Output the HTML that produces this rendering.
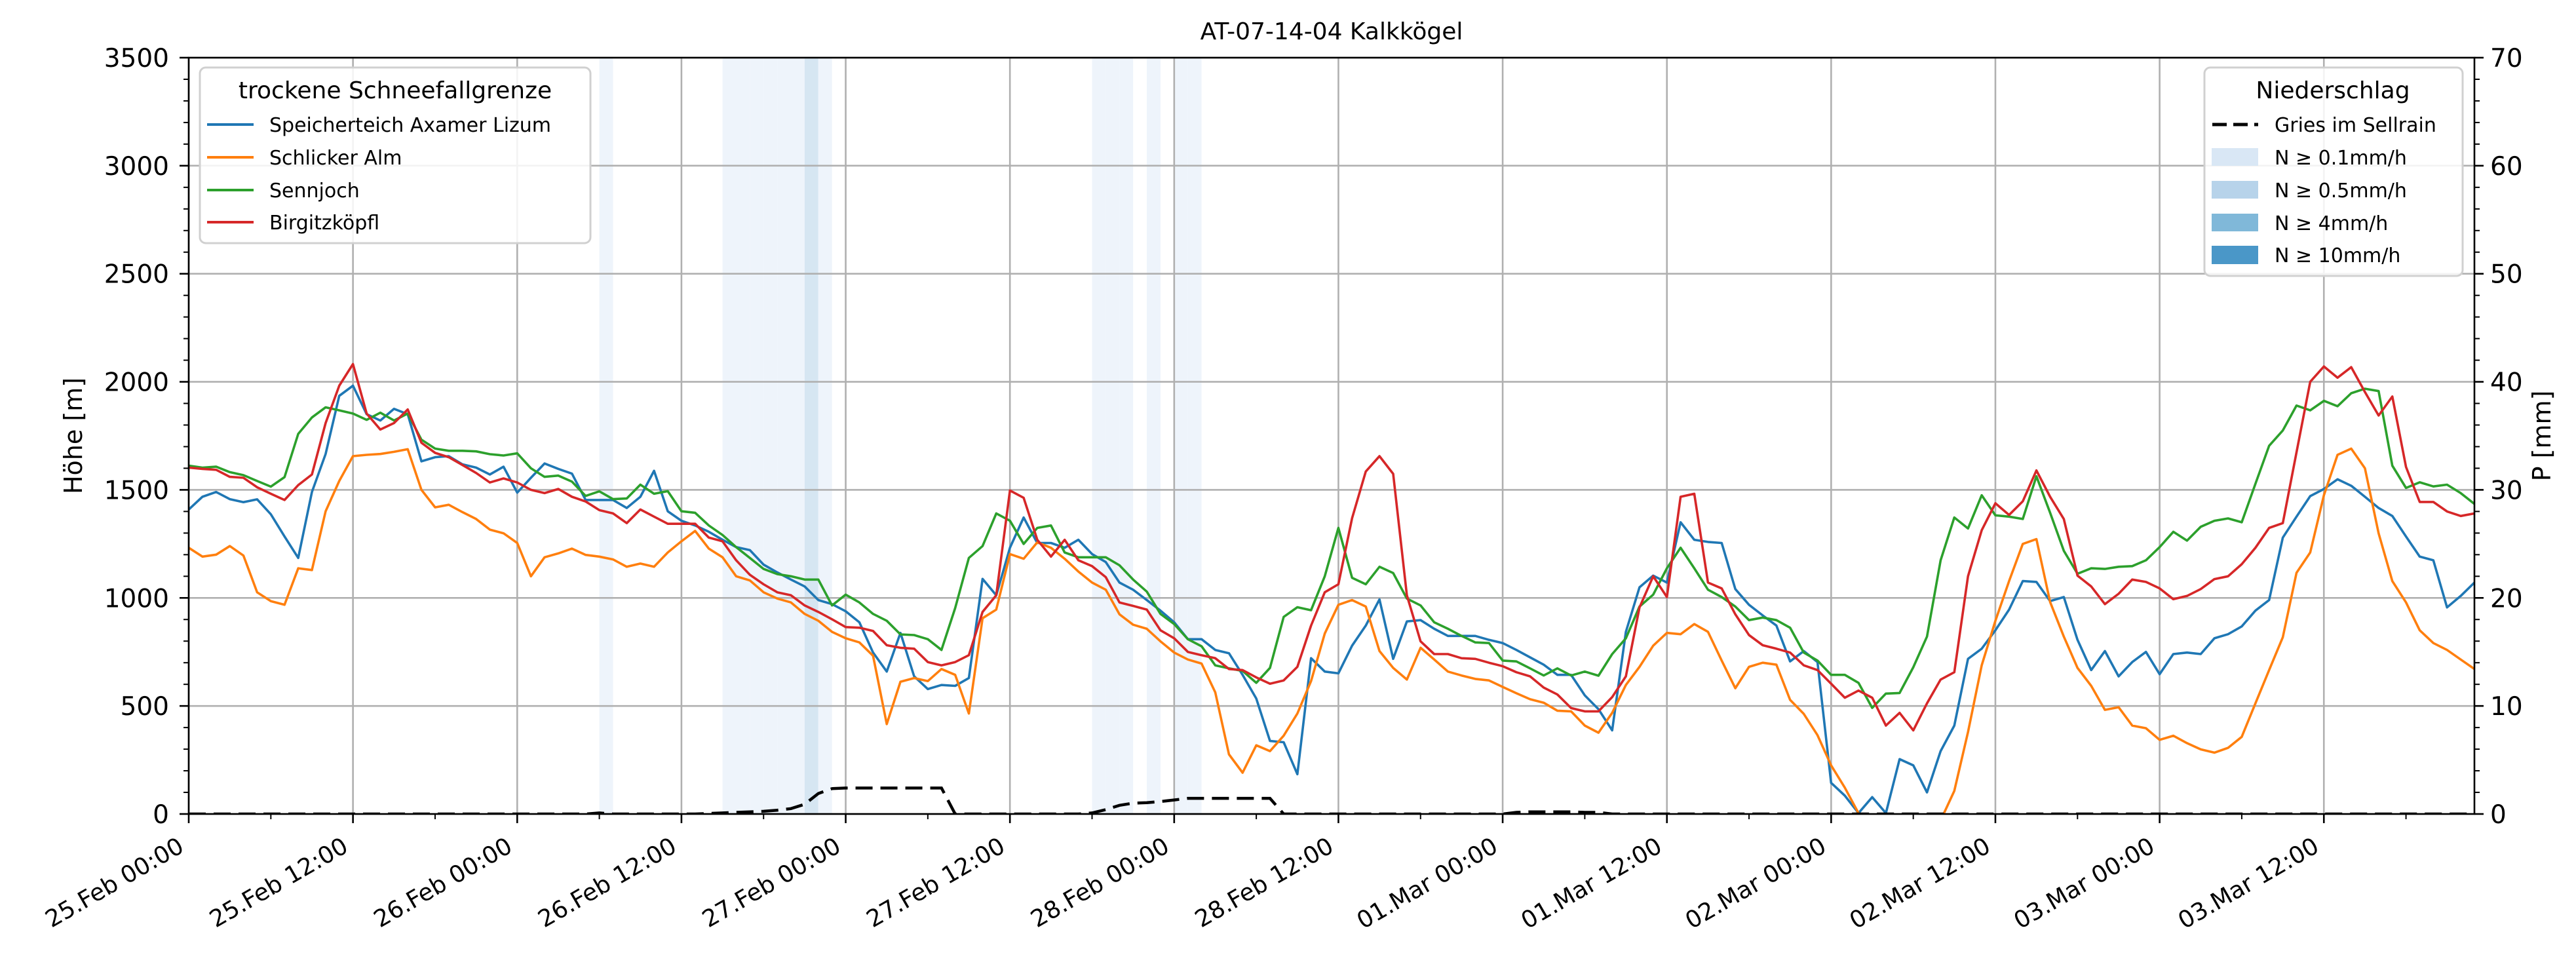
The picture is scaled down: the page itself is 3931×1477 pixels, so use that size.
<!DOCTYPE html>
<html><head><meta charset="utf-8"><style>
html,body{margin:0;padding:0;background:#fff}
svg{display:block;font-family:"DejaVu Sans","Liberation Sans",sans-serif}
</style></head><body>
<svg id="chart" width="3931" height="1477" viewBox="0 0 3931 1477" xmlns="http://www.w3.org/2000/svg">
<defs><clipPath id="plotclip"><rect x="288" y="88" width="3488" height="1154"/></clipPath></defs>
<text x="2032" y="60" font-size="36" text-anchor="middle">AT-07-14-04 Kalkkögel</text>
<g id="bands" clip-path="url(#plotclip)"></g>
<g id="grid"></g>
<g id="series" clip-path="url(#plotclip)"></g>
<g id="axes"></g>
<text transform="translate(125,665) rotate(-90)" font-size="38" text-anchor="middle">Höhe [m]</text>
<text transform="translate(3892,665) rotate(-90)" font-size="38" text-anchor="middle">P [mm]</text>
<g>
<rect x="305" y="103" width="596" height="268" rx="9" fill="#fff" fill-opacity="0.85" stroke="#d0d0d0" stroke-width="3"/>
<text x="603" y="150" font-size="36" text-anchor="middle">trockene Schneefallgrenze</text>
<g><line x1="316" y1="190" x2="387" y2="190" stroke="#1f77b4" stroke-width="4"/><text x="411" y="201" font-size="30">Speicherteich Axamer Lizum</text></g>
<g><line x1="316" y1="240" x2="387" y2="240" stroke="#ff7f0e" stroke-width="4"/><text x="411" y="251" font-size="30">Schlicker Alm</text></g>
<g><line x1="316" y1="290" x2="387" y2="290" stroke="#2ca02c" stroke-width="4"/><text x="411" y="301" font-size="30">Sennjoch</text></g>
<g><line x1="316" y1="339" x2="387" y2="339" stroke="#d62728" stroke-width="4"/><text x="411" y="350" font-size="30">Birgitzköpfl</text></g>
</g>
<g>
<rect x="3364" y="103" width="394" height="318" rx="9" fill="#fff" fill-opacity="0.85" stroke="#d0d0d0" stroke-width="3"/>
<text x="3560" y="150" font-size="36" text-anchor="middle">Niederschlag</text>
<g><line x1="3376" y1="190" x2="3446" y2="190" stroke="#000" stroke-width="5" stroke-dasharray="22,10"/><text x="3471" y="201" font-size="30">Gries im Sellrain</text></g>
<g><rect x="3375" y="226" width="71" height="27" fill="#d9e7f5"/><text x="3471" y="251" font-size="30">N ≥ 0.1mm/h</text></g>
<g><rect x="3375" y="276" width="71" height="27" fill="#b7d3ea"/><text x="3471" y="301" font-size="30">N ≥ 0.5mm/h</text></g>
<g><rect x="3375" y="326" width="71" height="27" fill="#80b8d9"/><text x="3471" y="351" font-size="30">N ≥ 4mm/h</text></g>
<g><rect x="3375" y="375" width="71" height="28" fill="#4a97c8"/><text x="3471" y="400" font-size="30">N ≥ 10mm/h</text></g>
</g>
</svg>
<script>
const xTickLabels = ["25.Feb 00:00","25.Feb 12:00","26.Feb 00:00","26.Feb 12:00","27.Feb 00:00","27.Feb 12:00","28.Feb 00:00","28.Feb 12:00","01.Mar 00:00","01.Mar 12:00","02.Mar 00:00","02.Mar 12:00","03.Mar 00:00","03.Mar 12:00"];
const yTicks = [0,500,1000,1500,2000,2500,3000,3500];
const y2Ticks = [0,10,20,30,40,50,60,70];
const speicherteich = [1409,1468,1490,1457,1443,1456,1387,1284,1185,1490,1666,1935,1982,1850,1821,1875,1850,1632,1651,1656,1618,1603,1571,1607,1487,1556,1622,1597,1575,1453,1453,1453,1416,1468,1588,1401,1357,1335,1306,1269,1235,1221,1154,1118,1085,1053,990,971,938,887,747,659,838,637,578,597,593,629,1088,1012,1232,1372,1254,1254,1232,1269,1203,1166,1071,1038,990,941,887,809,809,759,744,644,534,338,332,184,721,659,651,779,872,993,718,891,897,857,824,824,824,806,791,759,725,691,644,644,549,485,387,843,1049,1103,1071,1350,1269,1259,1254,1041,968,919,872,706,754,703,144,85,4,78,4,254,225,100,291,409,718,765,850,946,1078,1074,985,1004,806,666,754,637,703,750,647,740,747,740,813,832,868,941,990,1279,1376,1471,1504,1549,1519,1468,1416,1379,1284,1191,1174,956,1009,1071];
const schlickerAlm = [1232,1191,1200,1240,1196,1026,985,968,1137,1129,1401,1541,1656,1662,1666,1676,1688,1500,1419,1431,1397,1365,1316,1299,1254,1100,1188,1206,1228,1199,1191,1178,1144,1159,1144,1210,1262,1310,1228,1188,1100,1081,1026,997,979,926,894,843,813,794,732,416,612,629,615,671,644,465,906,946,1203,1181,1257,1232,1181,1122,1071,1038,924,876,857,799,747,715,696,563,276,191,318,291,362,465,615,835,968,990,960,754,676,622,769,715,659,641,625,618,588,559,531,515,478,475,409,376,468,597,681,779,838,832,879,843,710,582,681,700,691,528,463,365,225,122,4,-80,-150,-200,-200,-150,-30,107,379,688,894,1078,1250,1272,981,821,676,593,482,494,409,397,343,362,328,299,284,306,357,512,666,818,1116,1210,1475,1662,1691,1600,1299,1078,979,850,791,759,715,671];
const sennjoch = [1612,1603,1607,1582,1568,1541,1515,1559,1759,1835,1882,1868,1853,1824,1857,1821,1853,1732,1691,1681,1681,1678,1665,1659,1669,1600,1560,1566,1538,1472,1493,1457,1460,1524,1482,1494,1401,1394,1335,1291,1235,1185,1134,1110,1100,1085,1085,965,1015,979,926,894,831,828,809,759,953,1185,1240,1391,1357,1250,1324,1335,1210,1188,1188,1188,1151,1085,1029,926,879,809,776,688,674,662,607,676,912,957,943,1100,1324,1093,1063,1144,1115,997,965,887,857,824,794,791,710,706,674,641,674,641,659,640,740,813,960,1015,1137,1232,1137,1038,1004,960,897,909,897,862,747,710,644,644,607,491,557,560,679,821,1174,1372,1321,1475,1382,1376,1365,1563,1394,1218,1112,1137,1134,1144,1147,1174,1235,1306,1265,1329,1357,1368,1350,1528,1704,1775,1890,1868,1912,1887,1947,1968,1957,1612,1509,1535,1516,1524,1485,1435];
const birgitzkoepfl = [1603,1597,1593,1560,1556,1512,1482,1453,1522,1571,1809,1982,2082,1853,1779,1809,1872,1718,1671,1651,1615,1578,1534,1553,1534,1500,1485,1504,1468,1446,1406,1391,1346,1409,1376,1343,1343,1343,1279,1262,1174,1107,1063,1026,1012,965,935,901,865,862,847,781,769,765,703,688,703,735,935,1012,1497,1463,1269,1191,1269,1174,1147,1096,979,963,946,850,813,750,735,721,671,666,632,603,618,681,872,1026,1063,1369,1585,1656,1574,1012,799,740,740,721,718,700,684,656,637,585,553,490,475,475,541,637,956,1100,1004,1468,1482,1071,1044,924,828,781,765,747,688,666,603,538,571,538,409,468,387,512,622,656,1100,1313,1438,1384,1447,1590,1468,1365,1103,1053,971,1019,1085,1074,1044,994,1009,1041,1087,1100,1156,1232,1324,1346,1674,2000,2071,2019,2068,1953,1844,1932,1606,1444,1444,1400,1379,1391];
const griesPrecip = [0,0,0,0,0,0,0,0,0,0,0,0,0,0,0,0,0,0,0,0,0,0,0,0,0,0,0,0,0,0,0.1,0,0,0,0,0,0,0,0.05,0.1,0.15,0.2,0.25,0.35,0.5,0.9,1.9,2.35,2.4,2.4,2.4,2.4,2.4,2.4,2.4,2.4,0,0,0,0,0,0,0,0,0,0,0.1,0.4,0.8,1.0,1.05,1.15,1.3,1.45,1.45,1.45,1.45,1.45,1.45,1.45,0,0,0,0,0,0,0,0,0,0,0,0,0,0,0,0,0,0.15,0.2,0.2,0.2,0.2,0.15,0.15,0,0,0,0,0,0,0,0,0,0,0,0,0,0,0,0,0,0,0,0,0,0,0,0,0,0,0,0,0,0,0,0,0,0,0,0,0,0,0,0,0,0,0,0,0,0,0,0,0,0,0,0,0,0,0,0,0,0,0,0,0,0,0,0,0];
const rainHours = [30,39,40,41,42,43,44,45,46,66,67,68,70,72,73];
const rainRates = [0.2,0.2,0.2,0.2,0.2,0.2,0.2,0.8,0.2,0.2,0.2,0.2,0.2,0.2,0.2];

const NS='http://www.w3.org/2000/svg';
const L=288,R=3776,T=88,B=1242,HMAX=167;
function xs(h){return L+h*(R-L)/HMAX;}
function ys(v){return B-v*(B-T)/3500;}
function yp(p){return B-p*(B-T)/70;}
function mk(tag,attrs,parent){const e=document.createElementNS(NS,tag);for(const k in attrs)e.setAttribute(k,attrs[k]);parent.appendChild(e);return e;}

const bands=document.getElementById('bands');
rainHours.forEach((h,i)=>{
  const r=rainRates[i];
  const col=r>=10?'#4a97c8':r>=4?'#80b8d9':r>=0.5?'#d6e6f2':'#eef4fb';
  const el=mk('rect',{x:xs(h),y:T,width:xs(h+1)-xs(h),height:B-T,fill:col},bands);
  
  
});

const grid=document.getElementById('grid');
xTickLabels.forEach((lab,i)=>{
  const el=mk('line',{x1:xs(i*12),x2:xs(i*12),y1:T,y2:B,stroke:'#b0b0b0','stroke-width':2.6},grid);
  
  
});
yTicks.forEach(v=>{
  const el=mk('line',{x1:L,x2:R,y1:ys(v),y2:ys(v),stroke:'#b0b0b0','stroke-width':2.6},grid);
  
  
});

const series=document.getElementById('series');
const defs=[[speicherteich,'#1f77b4','line-speicherteich'],[schlickerAlm,'#ff7f0e','line-schlicker-alm'],[sennjoch,'#2ca02c','line-sennjoch'],[birgitzkoepfl,'#d62728','line-birgitzkoepfl']];
defs.forEach(([arr,col,name])=>{
  const d=arr.map((v,i)=>(i?'L':'M')+xs(i).toFixed(1)+','+ys(v).toFixed(1)).join('');
  const el=mk('path',{d:d,fill:'none',stroke:col,'stroke-width':3.6,'stroke-linejoin':'round'},series);
  
  
});
{
  const d=griesPrecip.map((v,i)=>(i?'L':'M')+xs(i).toFixed(1)+','+yp(v).toFixed(1)).join('');
  const el=mk('path',{d:d,fill:'none',stroke:'#000','stroke-width':4.5,'stroke-dasharray':'26,12'},series);
  
  
}

const axes=document.getElementById('axes');
const frame=mk('rect',{x:L,y:T,width:R-L,height:B-T,fill:'none',stroke:'#000','stroke-width':2.6},axes);


for(let h=0;h<=HMAX;h+=6){
  const major=h%12===0;
  const el=mk('line',{x1:xs(h),x2:xs(h),y1:B,y2:B+(major?14:8),stroke:'#000','stroke-width':major?2.6:2},axes);
  
  
}
xTickLabels.forEach((lab,i)=>{
  const t=mk('text',{transform:'translate('+(xs(i*12)-5)+',1298) rotate(-30)','font-size':36,'text-anchor':'end'},axes);
  t.textContent=lab;
  
  
});
for(let v=0;v<=3500;v+=100){
  const major=v%500===0;
  const el=mk('line',{x1:L,x2:L-(major?14:8),y1:ys(v),y2:ys(v),stroke:'#000','stroke-width':major?2.6:2},axes);
  
  
}
yTicks.forEach(v=>{
  const t=mk('text',{x:258,y:ys(v)+14,'font-size':39,'text-anchor':'end'},axes);
  t.textContent=v;
  
  
});
for(let p=0;p<=70;p+=2){
  const major=p%10===0;
  const el=mk('line',{x1:R,x2:R+(major?14:8),y1:yp(p),y2:yp(p),stroke:'#000','stroke-width':major?2.6:2},axes);
  
  
}
y2Ticks.forEach(p=>{
  const t=mk('text',{x:3800,y:yp(p)+14,'font-size':39,'text-anchor':'start'},axes);
  t.textContent=p;
  
  
});
</script>
</body></html>
